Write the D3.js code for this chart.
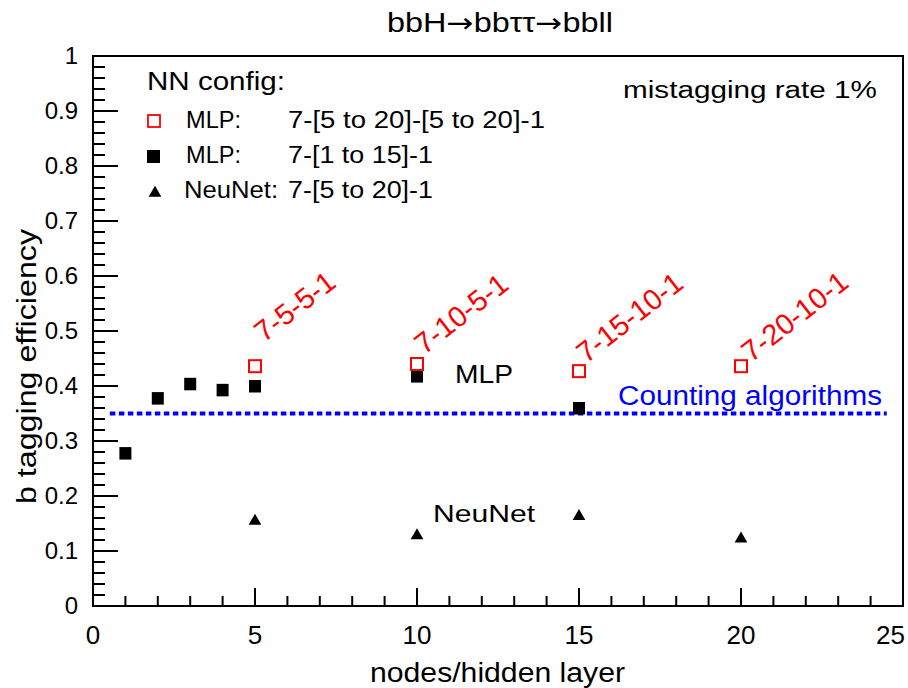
<!DOCTYPE html>
<html>
<head>
<meta charset="utf-8">
<script src="https://cdn.jsdelivr.net/npm/d3@7"></script>
<style>
  body { margin: 0; background: #fff; }
  text { font-family: "Liberation Sans", Arial, Helvetica, sans-serif; }
</style>
</head>
<body>
<div id="chart"></div>
<script>
// data
var mlp2Nodes = [5, 10, 15, 20];
var mlp2Eff = [0.436, 0.440, 0.427, 0.436];
var mlp2Labels = ["7-5-5-1", "7-10-5-1", "7-15-10-1", "7-20-10-1"];
// where the rotated labels start, in data units
var mlp2LabelX = [5.28, 10.22, 15.22, 20.32];
var mlp2LabelY = [0.478, 0.456, 0.440, 0.442];

var mlp1Nodes = [1, 2, 3, 4, 5, 10, 15];
var mlp1Eff = [0.278, 0.378, 0.404, 0.393, 0.400, 0.418, 0.360];

var neuNodes = [5, 10, 15, 20];
var neuEff = [0.156, 0.130, 0.165, 0.124];

var countingEff = 0.35;
var countingRange = [0.52, 24.5];

var xTicks = [0, 5, 10, 15, 20, 25];
var yTicks = [0, 0.1, 0.2, 0.3, 0.4, 0.5, 0.6, 0.7, 0.8, 0.9, 1];

var width = 908, height = 688;
var margin = { top: 56, right: 5, bottom: 82, left: 93 };

var svg = d3.select("#chart").append("svg")
    .attr("width", width)
    .attr("height", height);

var x = d3.scaleLinear().domain([0, 25]).range([margin.left, width - margin.right]);
var y = d3.scaleLinear().domain([0, 1]).range([height - margin.bottom, margin.top]);

// helper: text stretched to a given width
function label(g, tx, ty, size, len, str, color) {
    var t = g.append("text")
        .attr("x", tx).attr("y", ty)
        .attr("font-size", size)
        .attr("fill", color || "#000")
        .text(str);
    if (len) t.attr("textLength", len).attr("lengthAdjust", "spacingAndGlyphs");
    return t;
}

// x ticks (every 1, longer every 5)
svg.append("g").selectAll("line")
    .data(d3.range(0, 26))
    .enter().append("line")
    .attr("x1", d => x(d)).attr("x2", d => x(d))
    .attr("y1", y(0))
    .attr("y2", d => y(0) - (d % 5 === 0 ? 18 : 10))
    .attr("stroke", "#000").attr("stroke-width", 2);

// y ticks (every 0.02, longer every 0.1)
svg.append("g").selectAll("line")
    .data(d3.range(0, 51))
    .enter().append("line")
    .attr("x1", x(0))
    .attr("x2", d => x(0) + (d % 5 === 0 ? 25 : 12))
    .attr("y1", d => y(d * 0.02)).attr("y2", d => y(d * 0.02))
    .attr("stroke", "#000").attr("stroke-width", 2);

// frame
svg.append("rect")
    .attr("x", x(0)).attr("y", y(1))
    .attr("width", x(25) - x(0)).attr("height", y(0) - y(1))
    .attr("fill", "none").attr("stroke", "#000").attr("stroke-width", 2);

// tick labels
svg.append("g").selectAll("text")
    .data(xTicks)
    .enter().append("text")
    .attr("x", d => d === 25 ? 905 : x(d)).attr("y", 644)
    .attr("text-anchor", d => d === 25 ? "end" : "middle")
    .attr("font-size", 26)
    .text(d => d);

svg.append("g").selectAll("text")
    .data(yTicks)
    .enter().append("text")
    .attr("x", 78).attr("y", d => y(d) + 8)
    .attr("text-anchor", "end")
    .attr("font-size", 24)
    .text(d => d);

// axis titles
label(svg, 370, 682, 27, 255, "nodes/hidden layer");

svg.append("text")
    .attr("transform", "translate(36,504) rotate(-90)")
    .attr("font-size", 27)
    .attr("textLength", 275).attr("lengthAdjust", "spacingAndGlyphs")
    .text("b tagging efficiency");

// title and note
var title = svg.append("text")
    .attr("x", 387).attr("y", 32)
    .attr("font-size", 27)
    .attr("textLength", 226).attr("lengthAdjust", "spacingAndGlyphs");
title.append("tspan").text("bbH");
title.append("tspan").attr("font-family", "DejaVu Sans").text("\u2192");
title.append("tspan").text("bb\u03c4\u03c4");
title.append("tspan").attr("font-family", "DejaVu Sans").text("\u2192");
title.append("tspan").text("bbll");

label(svg, 623, 98, 23, 254, "mistagging rate 1%");

// counting algorithms line
svg.append("line")
    .attr("x1", x(countingRange[0])).attr("x2", x(countingRange[1]))
    .attr("y1", y(countingEff)).attr("y2", y(countingEff))
    .attr("stroke", "#0000ff").attr("stroke-width", 4)
    .attr("stroke-dasharray", "5.5,3.5");

label(svg, 618, 405, 27, 264, "Counting algorithms", "#0000ff");

// markers
svg.append("g").selectAll("rect")
    .data(mlp1Nodes)
    .enter().append("rect")
    .attr("x", d => x(d) - 6)
    .attr("y", (d, i) => y(mlp1Eff[i]) - 6)
    .attr("width", 12).attr("height", 12.5)
    .attr("fill", "#000");

svg.append("g").selectAll("rect")
    .data(mlp2Nodes)
    .enter().append("rect")
    .attr("x", d => x(d) - 6)
    .attr("y", (d, i) => y(mlp2Eff[i]) - 6)
    .attr("width", 12).attr("height", 12)
    .attr("fill", "none")
    .attr("stroke", "#ff0000").attr("stroke-width", 2);

var tri = d3.symbol().type(d3.symbolTriangle).size(70);
svg.append("g").selectAll("path")
    .data(neuNodes)
    .enter().append("path")
    .attr("d", tri)
    .attr("transform", (d, i) => "translate(" + x(d) + "," + (y(neuEff[i]) + 1) + ")")
    .attr("fill", "#000");

// rotated red config labels
svg.append("g").selectAll("text")
    .data(mlp2Labels)
    .enter().append("text")
    .attr("transform", (d, i) => "translate(" + x(mlp2LabelX[i]) + "," + y(mlp2LabelY[i]) + ") rotate(-38)")
    .attr("fill", "#ff0000")
    .attr("font-size", 29)
    .text(d => d);

// group labels
label(svg, 455, 383, 25, 58, "MLP");
label(svg, 433, 522, 24, 102, "NeuNet");

// legend
var legend = svg.append("g");
label(legend, 147, 90, 26, 138, "NN config:");

legend.append("rect").attr("x", 148).attr("y", 115).attr("width", 12).attr("height", 12)
    .attr("fill", "none").attr("stroke", "#ff0000").attr("stroke-width", 1.8);
legend.append("rect").attr("x", 147).attr("y", 150).attr("width", 13).attr("height", 13)
    .attr("fill", "#000");
legend.append("path").attr("d", tri).attr("transform", "translate(155,193)")
    .attr("fill", "#000");

label(legend, 186, 128, 23, 55, "MLP:");
label(legend, 288, 128, 23, 257, "7-[5 to 20]-[5 to 20]-1");
label(legend, 186, 163, 23, 55, "MLP:");
label(legend, 288, 163, 23, 145, "7-[1 to 15]-1");
label(legend, 184, 198, 23, 94, "NeuNet:");
label(legend, 288, 198, 23, 145, "7-[5 to 20]-1");
</script>
</body>
</html>
